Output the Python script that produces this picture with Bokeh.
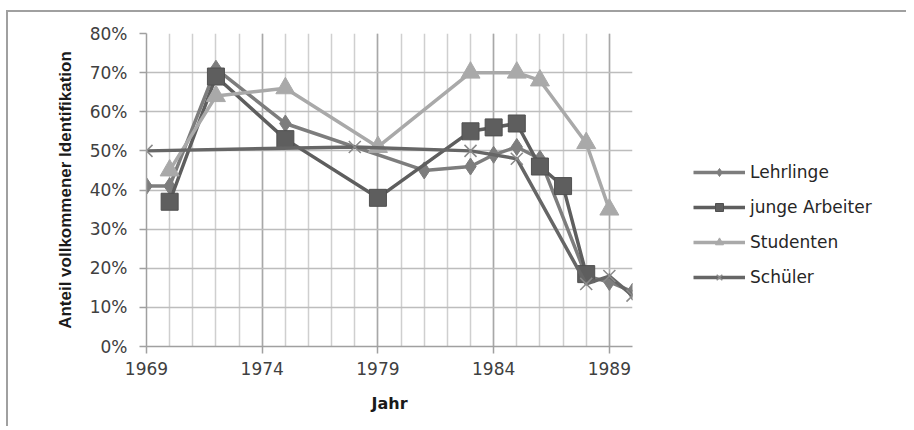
from bokeh.plotting import figure
from bokeh.layouts import row
from bokeh.models import Range1d, FixedTicker, NumeralTickFormatter, Legend, LegendItem
from bokeh.embed import file_html
from bokeh.resources import INLINE

# ---- data ----
years_lehrlinge = [1969, 1970, 1972, 1975, 1981, 1983, 1984, 1985, 1986, 1988, 1989, 1990]
lehrlinge = [0.41, 0.41, 0.71, 0.57, 0.45, 0.46, 0.49, 0.51, 0.48, 0.18, 0.165, 0.14]

years_arbeiter = [1970, 1972, 1975, 1979, 1983, 1984, 1985, 1986, 1987, 1988]
junge_arbeiter = [0.37, 0.69, 0.53, 0.38, 0.55, 0.56, 0.57, 0.46, 0.41, 0.185]

years_studenten = [1970, 1972, 1975, 1979, 1983, 1985, 1986, 1988, 1989]
studenten = [0.45, 0.64, 0.66, 0.51, 0.70, 0.70, 0.68, 0.52, 0.35]

years_schueler = [1969, 1978, 1983, 1985, 1988, 1989, 1990]
schueler = [0.50, 0.51, 0.50, 0.48, 0.16, 0.18, 0.13]

series_names = ["Lehrlinge", "junge Arbeiter", "Studenten", "Schüler"]

x_major_ticks = [1969, 1974, 1979, 1984, 1989]
x_minor_ticks = list(range(1969, 1991))
y_ticks = [0.0, 0.1, 0.2, 0.3, 0.4, 0.5, 0.6, 0.7, 0.8]

FONT = "DejaVu Sans"

p = figure(width=634, height=414, output_backend="svg", toolbar_location=None,
           x_range=Range1d(1969, 1990), y_range=Range1d(0, 0.8),
           min_border_left=138, min_border_right=10, min_border_top=21, min_border_bottom=80)
p.outline_line_color = None
p.background_fill_color = "white"
p.border_fill_color = "white"

# axes
p.xaxis.ticker = FixedTicker(ticks=x_major_ticks, minor_ticks=x_minor_ticks)
p.yaxis.ticker = FixedTicker(ticks=y_ticks)
p.yaxis.formatter = NumeralTickFormatter(format="0%")
for ax in (p.xaxis[0], p.yaxis[0]):
    ax.axis_line_color = "#a0a0a0"
    ax.axis_line_width = 1.5
    ax.major_tick_line_color = "#a0a0a0"
    ax.major_tick_line_width = 1.5
    ax.major_tick_in = 0
    ax.major_tick_out = 7
    ax.minor_tick_line_color = None
    ax.major_label_text_font = FONT
    ax.major_label_text_font_size = "17px"
    ax.major_label_text_color = "#404040"
    ax.axis_label_text_font_style = "bold"
    ax.axis_label_text_color = "#1a1a1a"

p.xaxis.major_label_standoff = 8
p.yaxis.major_label_standoff = 12
p.xaxis.axis_label = "Jahr"
p.xaxis.axis_label_text_font = FONT
p.xaxis.axis_label_text_font_size = "16px"
p.xaxis.axis_label_standoff = 16
p.yaxis.axis_label = "Anteil vollkommener Identifikation"
p.yaxis.axis_label_text_font = "Liberation Sans"
p.yaxis.axis_label_text_font_size = "17px"
p.yaxis.axis_label_standoff = 12

# grids
p.xgrid.ticker = FixedTicker(ticks=x_major_ticks, minor_ticks=x_minor_ticks)
p.xgrid.grid_line_color = "#a8a8a8"
p.xgrid.grid_line_width = 1.5
p.xgrid.minor_grid_line_color = "#cfcfcf"
p.xgrid.minor_grid_line_width = 1.5
p.ygrid.ticker = FixedTicker(ticks=y_ticks)
p.ygrid.grid_line_color = "#bdbdbd"
p.ygrid.grid_line_width = 1.5

# series styles
c_lehr = "#7d7d7d"
c_arb = "#5e5e5e"
c_stud = "#a9a9a9"
c_sch = "#666666"
LW = 3.5
styles = [
    dict(color=c_lehr, marker="diamond", size=17, lsize=13, mline=c_lehr, mlw=1),
    dict(color=c_arb, marker="square", size=17, lsize=16, mline="#505050", mlw=1),
    dict(color=c_stud, marker="triangle", size=19, lsize=17, mline=c_stud, mlw=1),
    dict(color=c_sch, marker="x", size=17, lsize=16, mline="#8a8a8a", mlw=1.5),
]
data = [(years_lehrlinge, lehrlinge), (years_arbeiter, junge_arbeiter),
        (years_studenten, studenten), (years_schueler, schueler)]

for (xs, ys), st in zip(data, styles):
    p.line(xs, ys, line_color=st["color"], line_width=LW)
    p.scatter(xs, ys, marker=st["marker"], size=st["size"], fill_color=st["color"],
              line_color=st["mline"], line_width=st["mlw"])

# legend panel (separate figure to the right of the chart)
q = figure(width=264, height=414, output_backend="svg", toolbar_location=None,
           x_range=Range1d(0, 1), y_range=Range1d(0, 1),
           min_border_left=0, min_border_right=0, min_border_top=0, min_border_bottom=0)
q.axis.visible = False
q.grid.visible = False
q.outline_line_color = None
q.border_fill_color = "white"

items = []
for name, st in zip(series_names, styles):
    lr = q.line([-5, -4], [-5, -4], line_color=st["color"], line_width=LW)
    mr = q.scatter([-5], [-5], marker=st["marker"], size=st["lsize"],
                   fill_color=st["color"], line_color=st["mline"], line_width=st["mlw"])
    items.append(LegendItem(label=name, renderers=[lr, mr]))

legend = Legend(items=items, location=(51, 59))
legend.border_line_color = None
legend.background_fill_alpha = 0
legend.padding = 0
legend.margin = 0
legend.spacing = 15
legend.glyph_width = 52
legend.glyph_height = 20
legend.label_height = 20
legend.label_standoff = 5
legend.label_text_font = FONT
legend.label_text_font_size = "17px"
legend.label_text_color = "#262626"
q.add_layout(legend, "center")

layout = row(p, q, styles={"border-top": "2px solid #a0a0a0", "border-left": "2px solid #a0a0a0",
                           "margin-left": "6px", "margin-top": "10px"})

open("out.html", "w").write(file_html(layout, INLINE))
